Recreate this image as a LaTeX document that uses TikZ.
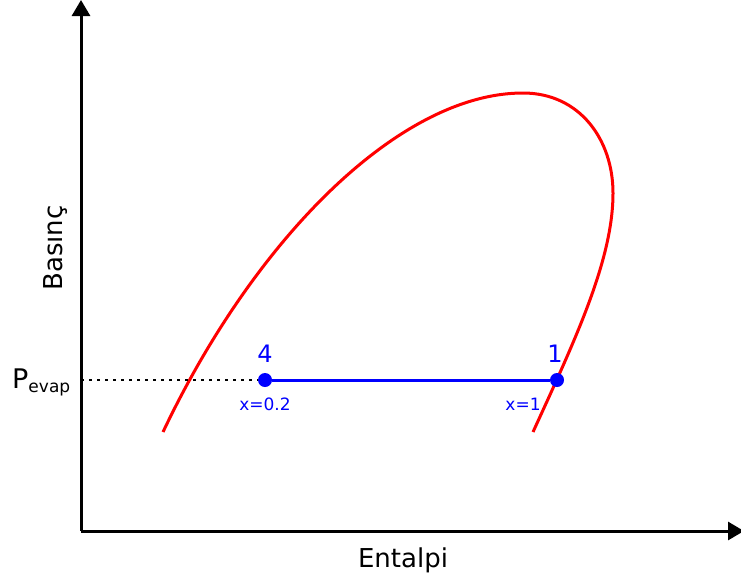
\documentclass[tikz,border=0pt]{standalone}
\usepackage{fontspec}
\setmainfont{DejaVu Sans}
\usetikzlibrary{arrows.meta, positioning}
\definecolor{cblue}{HTML}{0000FF}
\definecolor{cred}{HTML}{FF0000}

\begin{document}
\begin{tikzpicture}[x=1pt, y=-1pt,
  axis/.style={line width=3pt, -{Triangle[length=16pt, width=18pt]}},
  dot/.style={circle, fill=cblue, inner sep=0pt, minimum size=14pt},
  pt/.style={text=cblue, anchor=base, font=\fontsize{24}{28}\selectfont},
  qual/.style={text=cblue, anchor=base, font=\fontsize{17}{20}\selectfont},
  lbl/.style={anchor=base, font=\fontsize{26}{30}\selectfont}
]
  \useasboundingbox (0,0) rectangle (741,581);

  % Axes
  \coordinate (o) at (81,531);
  \coordinate (ytop) at (81,0);
  \coordinate (xend) at (744,531);
  \draw[axis] (o) -- (ytop);
  \draw[axis] (o) -- (xend);
  \node[lbl] (xlbl) at (403,567) {Entalpi};
  \node[lbl, rotate=90] (ylbl) at (62,248) {Basınç};

  % Saturation dome
  \draw[cred, line width=3pt] (163,432)
    .. controls (255,238) and (400,93) .. (523,93)
    .. controls (580,93) and (613,140) .. (613,193)
    .. controls (613,260) and (575,340) .. (533,432);

  % Evaporator line
  \coordinate (pevap) at (81,380);
  \node[dot] (p4) at (265,380) {};
  \node[dot] (p1) at (557,380) {};
  \draw[line width=2pt, dash pattern=on 3pt off 5pt] (pevap) -- (p4);
  \draw[cblue, line width=3pt] (p4) -- (p1);

  \node[anchor=base west, inner sep=0pt, font=\fontsize{27}{31}\selectfont] (plbl) at (12,388)
    {P\raisebox{-4pt}{\fontsize{17}{20}\selectfont evap}};

  % Points
  \node[pt] (n4) at (265,362) {4};
  \node[pt] (n1) at (555,362) {1};
  \node[qual] (x4) at (265,410) {x=0.2};
  \node[qual] (x1) at (523,410) {x=1};

\end{tikzpicture}
\end{document}
